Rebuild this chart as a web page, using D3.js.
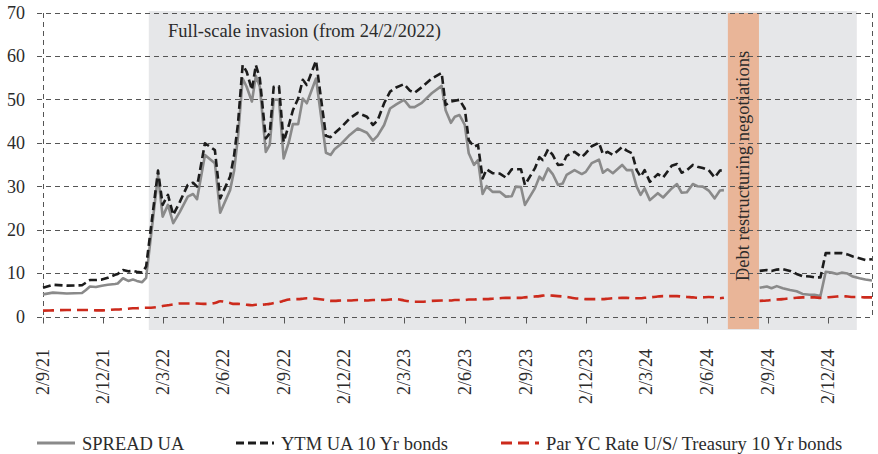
<!DOCTYPE html>
<html>
<head>
<meta charset="utf-8">
<script src="https://cdn.jsdelivr.net/npm/d3@7"></script>
<style>
  body { margin: 0; background: #fff; }
  svg { display: block; font-family: "Liberation Serif", "Times New Roman", serif; }
</style>
</head>
<body>
<svg width="878" height="454"></svg>
<script>
// observation dates (d = null entry marks the gap during negotiations)
var dates = [
    '2021-09-02','2021-09-17','2021-10-08','2021-10-31','2021-11-06','2021-11-12','2021-11-21','2021-11-30',
    '2021-12-09','2021-12-20','2021-12-24','2022-01-01','2022-01-09','2022-01-16','2022-01-22','2022-01-30',
    '2022-02-05','2022-02-23','2022-03-02','2022-03-10','2022-03-18','2022-03-28','2022-04-09','2022-04-17',
    '2022-04-23','2022-05-05','2022-05-20','2022-05-28','2022-06-12','2022-06-18','2022-06-24','2022-07-01',
    '2022-07-07','2022-07-15','2022-07-21','2022-07-27','2022-08-05','2022-08-11','2022-08-17','2022-08-25',
    '2022-09-01','2022-09-09','2022-09-15','2022-09-23','2022-09-30','2022-10-06','2022-10-20','2022-11-04',
    '2022-11-11','2022-11-17','2022-11-28','2022-12-10','2022-12-22','2023-01-05','2023-01-14','2023-01-21',
    '2023-01-31','2023-02-09','2023-02-19','2023-03-02','2023-03-11','2023-03-18','2023-03-29','2023-04-13',
    '2023-04-28','2023-05-04','2023-05-12','2023-05-18','2023-05-25','2023-06-02','2023-06-08','2023-06-16',
    '2023-06-22','2023-06-29','2023-07-05','2023-07-14','2023-07-25','2023-08-03','2023-08-12','2023-08-18',
    '2023-08-26','2023-09-01','2023-09-16','2023-09-23','2023-09-28','2023-10-06','2023-10-13','2023-10-21',
    '2023-10-28','2023-11-03','2023-11-15','2023-11-26','2023-12-02','2023-12-11','2023-12-22','2023-12-28',
    '2024-01-04','2024-01-12','2024-01-26','2024-02-02','2024-02-10','2024-02-17','2024-02-23','2024-02-29',
    '2024-03-08','2024-03-20','2024-03-28','2024-04-10','2024-04-18','2024-04-25','2024-05-03','2024-05-12',
    '2024-05-19','2024-05-27','2024-06-05','2024-06-14','2024-06-22','2024-06-28','2024-07-28','2024-08-21',
    '2024-09-01','2024-09-08','2024-09-16','2024-09-25','2024-10-06','2024-10-16','2024-10-25','2024-11-05',
    '2024-11-12','2024-11-21','2024-11-29','2024-12-08','2024-12-16','2024-12-23','2025-01-01','2025-01-09',
    '2025-01-19','2025-01-28','2025-02-07'
];

var spreadUA = [
    5.1, 5.5, 5.3, 5.4, 6.1, 6.9, 6.8, 7.1,
    7.3, 7.5, 7.6, 8.8, 8.2, 8.5, 8.2, 7.9,
    8.9, 32.5, 23.0, 25.7, 21.5, 24.1, 27.6, 28.2,
    27.0, 37.2, 35.3, 23.9, 29.1, 33.5, 41.4, 54.8,
    52.9, 49.5, 55.4, 52.9, 37.9, 39.5, 49.9, 49.9,
    36.4, 40.2, 44.3, 44.3, 50.2, 49.1, 54.8, 37.7,
    37.2, 38.5, 39.9, 41.8, 43.3, 42.3, 40.5, 41.6,
    44.1, 47.9, 48.9, 49.9, 48.2, 48.2, 49.2, 51.4,
    53.1, 47.5, 44.6, 46.0, 46.4, 44.1, 37.6, 34.9,
    36.0, 28.2, 30.0, 28.7, 28.7, 27.6, 27.7, 29.9,
    29.8, 25.7, 29.5, 32.2, 31.4, 34.1, 32.8, 30.3,
    30.6, 32.6, 33.7, 32.8, 33.3, 35.3, 36.1, 33.1,
    33.9, 33.0, 34.9, 33.7, 33.7, 29.9, 28.0, 29.5,
    26.8, 28.4, 27.4, 29.5, 30.5, 28.5, 28.6, 30.5,
    30.0, 29.9, 29.0, 27.2, 29.0, 29.1, null, 6.6,
    6.9, 6.5, 7.0, 6.5, 6.1, 5.8, 5.2, 5.0,
    5.0, 4.7, 10.3, 10.1, 9.8, 10.1, 9.9, 9.2,
    8.8, 8.5, 8.3
];

var ytmUA = [
    6.6, 7.3, 7.1, 7.2, 7.8, 8.4, 8.4, 8.5,
    8.9, 9.6, 9.8, 10.7, 10.4, 10.5, 10.3, 10.1,
    11.5, 33.6, 25.7, 28.0, 23.4, 26.4, 30.3, 30.8,
    29.9, 39.9, 38.3, 27.2, 32.2, 37.0, 44.5, 57.9,
    56.4, 52.2, 57.9, 54.8, 41.0, 42.2, 52.9, 53.0,
    40.2, 44.1, 47.5, 50.2, 54.5, 53.3, 58.9, 41.6,
    41.3, 42.2, 43.7, 45.6, 46.9, 46.0, 44.1, 45.1,
    49.1, 51.8, 52.8, 53.5, 52.0, 51.5, 52.8, 54.8,
    56.1, 48.7, 49.5, 49.7, 49.9, 47.9, 40.6, 39.1,
    39.5, 31.8, 33.9, 33.0, 32.9, 32.0, 33.9, 33.9,
    33.9, 30.3, 34.1, 36.7, 36.0, 38.5, 37.2, 34.9,
    35.0, 37.0, 37.9, 36.7, 37.6, 39.2, 40.0, 37.4,
    37.9, 37.2, 39.0, 38.2, 37.6, 33.7, 32.2, 33.7,
    31.0, 32.8, 32.0, 34.7, 35.1, 33.1, 33.7, 34.9,
    34.5, 34.2, 33.7, 32.0, 33.6, 33.7, null, 10.5,
    10.7, 10.5, 10.8, 10.9, 10.5, 9.8, 9.3, 9.2,
    9.0, 9.0, 14.6, 14.6, 14.6, 14.6, 14.3, 13.8,
    13.4, 13.0, 13.2
];

var parYC = [
    1.35, 1.4, 1.5, 1.5, 1.5, 1.5, 1.4, 1.4,
    1.5, 1.6, 1.6, 1.7, 1.8, 1.9, 1.9, 2.0,
    2.0, 2.2, 2.4, 2.6, 2.8, 3.0, 3.0, 3.0,
    3.0, 2.9, 3.1, 3.5, 3.1, 2.9, 2.9, 2.8,
    2.7, 2.6, 2.7, 2.7, 2.8, 2.9, 3.1, 3.3,
    3.6, 3.9, 4.0, 4.0, 4.1, 4.2, 4.1, 3.8,
    3.6, 3.6, 3.7, 3.7, 3.8, 3.7, 3.8, 3.8,
    3.8, 3.9, 4.0, 3.7, 3.5, 3.4, 3.4, 3.6,
    3.7, 3.7, 3.7, 3.8, 3.8, 3.8, 3.9, 3.9,
    4.0, 4.0, 4.0, 4.1, 4.2, 4.3, 4.3, 4.3,
    4.3, 4.4, 4.6, 4.7, 4.8, 4.9, 4.8, 4.7,
    4.6, 4.5, 4.2, 4.1, 4.0, 4.0, 4.0, 4.0,
    4.1, 4.2, 4.3, 4.3, 4.2, 4.2, 4.2, 4.3,
    4.4, 4.6, 4.7, 4.7, 4.7, 4.6, 4.5, 4.4,
    4.3, 4.4, 4.5, 4.4, 4.2, 4.3, null, 3.6,
    3.7, 3.8, 3.9, 4.0, 4.2, 4.3, 4.4, 4.4,
    4.4, 4.3, 4.4, 4.5, 4.6, 4.7, 4.6, 4.5,
    4.5, 4.4, 4.4
];

var tickLabels = ['2/9/21','2/12/21','2/3/22','2/6/22','2/9/22','2/12/22','2/3/23',
                  '2/6/23','2/9/23','2/12/23','2/3/24','2/6/24','2/9/24','2/12/24'];
var yTicks = [0, 10, 20, 30, 40, 50, 60, 70];

var invasionPeriod = ['2022-02-09', '2025-01-15'];
var debtPeriod = ['2024-07-04', '2024-08-20'];
var invasionLabel = 'Full-scale invasion (from 24/2/2022)';
var debtLabel = 'Debt restructuring negotiations';
var seriesNames = ['SPREAD UA', 'YTM UA 10 Yr bonds', 'Par YC Rate U/S/ Treasury 10 Yr bonds'];

var parseDate = d3.timeParse('%Y-%m-%d');
var parseTick = d3.timeParse('%d/%m/%y');
var svg = d3.select('svg');
var textColor = '#2b2b2b';
var gridColor = '#555';

var x = d3.scaleTime()
    .domain([parseDate(dates[0]), parseDate(dates[dates.length - 1])])
    .range([43, 872]);
var y = d3.scaleLinear().domain([0, 70]).range([316.5, 12.5]);
var y0 = Math.round(y(0)) + 0.5;

// background shading
svg.append('rect')
    .attr('x', x(parseDate(invasionPeriod[0])))
    .attr('y', 11)
    .attr('width', x(parseDate(invasionPeriod[1])) - x(parseDate(invasionPeriod[0])))
    .attr('height', 319)
    .attr('fill', '#e6e7e9');

svg.append('rect')
    .attr('x', x(parseDate(debtPeriod[0])))
    .attr('y', 13)
    .attr('width', x(parseDate(debtPeriod[1])) - x(parseDate(debtPeriod[0])))
    .attr('height', 316)
    .attr('fill', '#e9b598');

// grid
svg.append('g').selectAll('line').data(yTicks).enter().append('line')
    .attr('x1', 37).attr('x2', 872)
    .attr('y1', function(d) { return Math.round(y(d)) + 0.5; })
    .attr('y2', function(d) { return Math.round(y(d)) + 0.5; })
    .attr('stroke', gridColor).attr('stroke-width', 1).attr('stroke-dasharray', '5,4');

[43, 872].forEach(function(px) {
    svg.append('line')
        .attr('x1', px + 0.5).attr('x2', px + 0.5)
        .attr('y1', Math.round(y(70))).attr('y2', y0)
        .attr('stroke', gridColor).attr('stroke-width', 1).attr('stroke-dasharray', '5,4');
});

// y labels
svg.append('g').selectAll('text').data(yTicks).enter().append('text')
    .attr('x', 25).attr('y', function(d) { return y(d); })
    .attr('dy', '0.35em')
    .attr('text-anchor', 'end')
    .attr('font-size', 18)
    .attr('fill', textColor)
    .text(function(d) { return d; });

// x ticks + labels
var tickDates = tickLabels.map(function(t) { return parseTick(t); });
svg.append('g').selectAll('line').data(tickDates).enter().append('line')
    .attr('x1', function(d) { return Math.round(x(d)) + 0.5; })
    .attr('x2', function(d) { return Math.round(x(d)) + 0.5; })
    .attr('y1', y0).attr('y2', y0 + 6)
    .attr('stroke', gridColor).attr('stroke-width', 1);

svg.append('g').selectAll('text').data(tickLabels).enter().append('text')
    .attr('transform', function(d, i) { return 'translate(' + (x(tickDates[i]) + 6) + ',349) rotate(-90)'; })
    .attr('text-anchor', 'end')
    .attr('font-size', 18)
    .attr('fill', textColor)
    .text(function(d) { return d; });

// annotations
svg.append('text')
    .attr('x', 168).attr('y', 37)
    .attr('font-size', 18.5)
    .attr('fill', textColor)
    .text(invasionLabel);

svg.append('text')
    .attr('transform', 'translate(' + (x(parseDate(debtPeriod[0])) + 21) + ',166) rotate(-90)')
    .attr('text-anchor', 'middle')
    .attr('font-size', 18.5)
    .attr('fill', textColor)
    .text(debtLabel);

// series
var rows = dates.map(function(d, i) {
    return { date: parseDate(d), spread: spreadUA[i], ytm: ytmUA[i], par: parYC[i] };
});

function lineFor(key, curve) {
    return d3.line()
        .defined(function(d) { return d[key] != null; })
        .x(function(d) { return x(d.date); })
        .y(function(d) { return y(d[key]); })
        .curve(curve || d3.curveLinear);
}

var series = [
    { key: 'spread', color: '#8a8a8a', dash: null, curve: d3.curveLinear },
    { key: 'ytm', color: '#1c1c1c', dash: '8,4', curve: d3.curveLinear },
    { key: 'par', color: '#cc2a1c', dash: '11,6', curve: d3.curveMonotoneX }
];

series.forEach(function(s) {
    svg.append('path')
        .datum(rows)
        .attr('d', lineFor(s.key, s.curve))
        .attr('fill', 'none')
        .attr('stroke', s.color)
        .attr('stroke-width', 2.6)
        .attr('stroke-dasharray', s.dash)
        .attr('stroke-linejoin', 'round');
});

// legend
var legendX = [37, 236, 501];
var legend = svg.append('g').selectAll('g').data(series).enter().append('g')
    .attr('transform', function(d, i) { return 'translate(' + legendX[i] + ',443)'; });

legend.append('line')
    .attr('x1', 0).attr('x2', 38).attr('y1', 0).attr('y2', 0)
    .attr('stroke', function(d) { return d.color; })
    .attr('stroke-width', 3)
    .attr('stroke-dasharray', function(d) { return d.dash; });

legend.append('text')
    .attr('x', 45).attr('y', 6.5)
    .attr('font-size', 18.5)
    .attr('fill', textColor)
    .text(function(d, i) { return seriesNames[i]; });
</script>
</body>
</html>
